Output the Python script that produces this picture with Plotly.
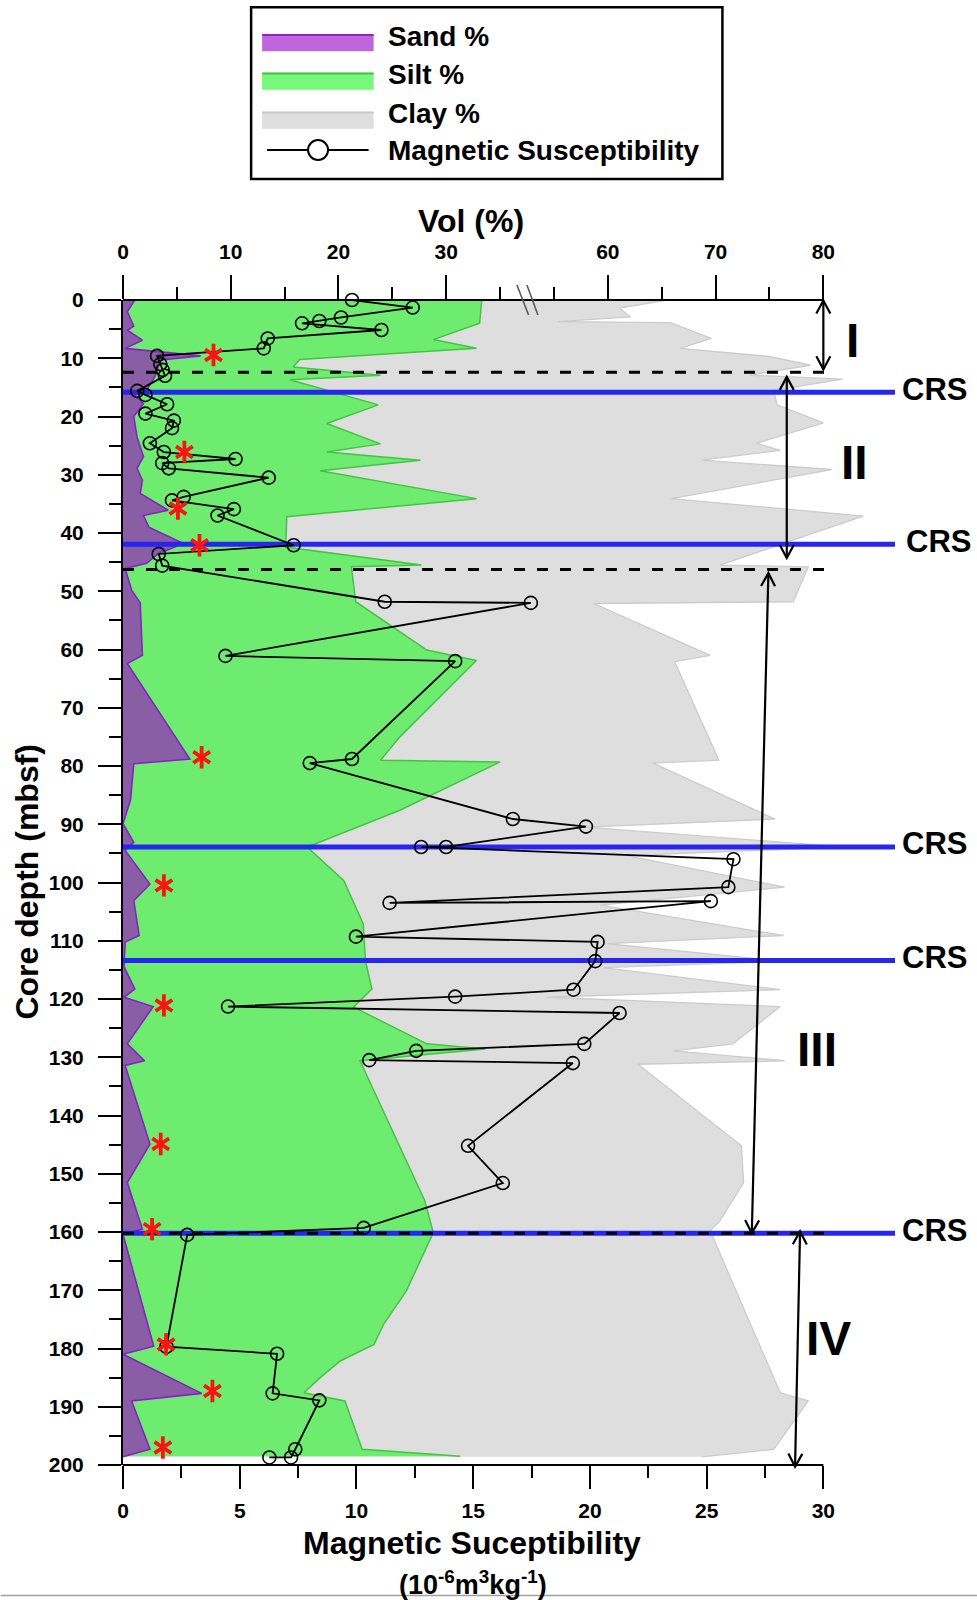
import plotly.graph_objects as go

# ---------------- data ----------------
# Grain-size profile: right-hand edge of each stacked band (vol %), by core depth (mbsf)
SAND_DEPTH = [0, 2, 4.5, 5.2, 6.9, 8.3, 9.6, 10.3, 13, 15.5,
              16.3, 17.8, 20, 23.5, 26.9, 28.9, 30.9, 33.2, 36.1, 37,
              39, 41.8, 43.5, 45.2, 46.1, 49.8, 52, 61, 62.4, 78.8,
              79.6, 85.8, 89.9, 93.1, 94.5, 100.3, 103.1, 109.1, 110.2, 114.5,
              118.3, 119.7, 121.3, 127.7, 130.6, 131.4, 144.9, 151.5, 159.5, 160.4,
              179.6, 181, 187.7, 189, 197.3, 198.6]
SAND_PCT = [1.1, 0.4, 1.0, 0.4, 1.8, 0.2, 7.2, 3.5, 3.0, 2.2,
            1.1, 1.9, 1.0, 1.3, 1.9, 1.3, 1.8, 1.6, 4.2, 1.9,
            2.4, 5.6, 3.3, 2.2, 0.2, 0.8, 1.6, 1.8, 0.4, 6.2,
            1.0, 0.7, 0.0, 1.0, 0.2, 2.5, 1.0, 1.5, 0.2, 0.1,
            1.1, 0.1, 2.8, 0.4, 2.0, 0.2, 2.5, 0.4, 1.8, 0.0,
            2.85, 0.0, 7.3, 0.8, 2.5, 0.0]

SILT_DEPTH = [0, 4, 6.8, 8.3, 10.2, 11.5, 12.9, 13.7, 18, 21.2,
              24.7, 26.1, 27.5, 29.3, 34.1, 37.2, 42.4, 45.5, 45.8, 51.8,
              60.1, 61.9, 75.0, 79.0, 79.3, 87.6, 93.9, 99.7, 107.1, 113.4,
              118.3, 121.4, 127.7, 128.6, 130.6, 154.6, 160.1, 170.1, 175.8, 179.3,
              182.1, 185.0, 187.6, 189.0, 197.3, 198.5]
SAND_SILT_PCT = [33.3, 33.1, 28.8, 32.8, 16.4, 15.8, 23.9, 15.5, 23.7, 18.9,
                 23.9, 18.9, 27.6, 18.3, 32.8, 15.2, 15.1, 27.7, 21.2, 21.6,
                 28.2, 32.8, 25.7, 23.9, 35.0, 25.7, 17.1, 20.5, 22.3, 22.5,
                 23.1, 21.4, 28.2, 33.6, 22.0, 28.0, 28.8, 26.3, 24.2, 23.3,
                 20.2, 18.3, 16.8, 20.6, 22.2, 31.3]

CLAY_DEPTH = [0, 1.4, 2.9, 3.7, 3.9, 6.6, 8.3, 9.7, 11.2, 12.9,
              13.6, 15.5, 18.0, 21.1, 24.6, 25.8, 27.5, 29.1, 34.1, 37.1,
              42.1, 45.5, 45.8, 51.8, 52.1, 61.0, 62.1, 79.0, 79.5, 89.1,
              90.5, 93.9, 95.4, 100.8, 103.9, 109.1, 110.5, 113.5, 114.6, 118.4,
              119.7, 121.3, 127.7, 128.9, 130.6, 131.2, 145.2, 151.5, 158.1, 159.8,
              171.8, 187.6, 189.0, 197.3, 198.6]
TOTAL_PCT = [65.5, 61.1, 62.1, 55.4, 65.8, 69.6, 66.7, 75.0, 78.8, 73.2,
             81.8, 75.4, 75.7, 80.0, 73.8, 76.0, 68.7, 80.8, 65.9, 83.7,
             75.8, 70.4, 78.6, 77.2, 58.7, 69.5, 66.2, 70.3, 64.2, 75.5,
             58.0, 81.8, 61.8, 76.4, 59.3, 76.3, 59.9, 76.0, 59.6, 76.0,
             54.3, 76.0, 71.6, 66.1, 76.4, 62.8, 72.4, 72.6, 70.4, 69.5,
             72.3, 76.0, 78.6, 75.4, 68.7]

# Magnetic susceptibility (10^-6 m^3 kg^-1)
MS_DEPTH = [0.0, 1.3, 3.0, 3.6, 4.0, 5.15, 6.6, 8.3, 9.6, 11.0,
            12.0, 13.0, 15.6, 16.3, 17.9, 19.5, 20.7, 22.0, 24.6, 26.1,
            27.3, 28.0, 28.9, 30.5, 33.8, 34.4, 35.9, 37.0, 42.1, 43.6,
            45.6, 51.8, 52.0, 61.1, 62.0, 78.8, 79.5, 89.1, 90.4, 93.9,
            93.9, 96.0, 100.8, 103.5, 103.2, 109.3, 110.2, 113.5, 118.4, 119.6,
            121.3, 122.4, 127.7, 128.9, 130.5, 131.0, 145.2, 151.6, 159.3, 160.5,
            179.7, 180.9, 187.7, 188.9, 197.3, 198.7, 198.7]
MS_VALUE = [9.81, 12.41, 9.34, 8.41, 7.67, 11.07, 6.20, 6.03, 1.46, 1.6,
            1.7, 1.8, 0.61, 0.96, 1.89, 0.96, 2.18, 2.10, 1.15, 1.75,
            4.82, 1.68, 1.96, 6.24, 2.6, 2.1, 4.75, 4.05, 7.31, 1.53,
            1.68, 11.21, 17.47, 4.39, 14.23, 9.81, 8.00, 16.70, 19.83, 13.84,
            12.77, 26.15, 25.93, 11.42, 25.18, 9.98, 20.33, 20.23, 19.30, 14.23,
            4.50, 21.27, 19.76, 12.56, 10.55, 19.27, 14.78, 16.27, 10.31, 2.75,
            1.86, 6.60, 6.41, 8.41, 7.38, 7.20, 6.27]

# Sand-peak markers (vol %, depth)
STAR_DEPTH = [9.45, 26.1, 35.8, 42.1, 78.5, 100.5, 121.1, 144.9, 159.5, 179.3, 187.3, 197.0]
STAR_VOL = [8.4, 5.7, 5.1, 7.1, 7.3, 3.8, 3.8, 3.5, 2.7, 4.0, 8.3, 3.7]

CRS_DEPTH = [15.85, 41.95, 93.9, 113.4, 160.2]
UNIT_BOUNDARY_DEPTH = [12.4, 46.25, 160.2]
UNIT_NAMES = ["I", "II", "III", "IV"]

VOL_TICKS = [0, 10, 20, 30, 60, 70, 80]
VOL_MINOR = [5, 15, 25, 35, 55, 65, 75]
MS_TICKS = [0, 5, 10, 15, 20, 25, 30]
MS_MINOR = [2.5, 7.5, 12.5, 17.5, 22.5, 27.5]
DEPTH_TICKS = list(range(0, 201, 10))
DEPTH_MINOR = list(range(5, 200, 10))

# ---------------- geometry ----------------
FIG_W, FIG_H = 977, 1600
L, R, T, B = 122.5, 900.0, 300.0, 1465.0
W, H = R - L, B - T
VOL_PX = 700.8 / 65.0        # px per displayed vol unit
MS_PX = 700.8 / 30.0         # px per susceptibility unit
BREAK_LO, BREAK_SHIFT = 37.5, 15.0
FONT = "Liberation Sans, Arial, sans-serif"


def vol_axis(v):
    """Broken vol-% axis: values above the break are shifted left."""
    return v if v <= BREAK_LO else v - BREAK_SHIFT


def ypx(depth):
    return T + depth * H / 200.0


def xp(px):
    return (px - L) / W


def yp(py):
    return 1 - (py - T) / H


VOL_RANGE = [0, W / VOL_PX]
MS_RANGE = [0, W / MS_PX]

fig = go.Figure()

# stacked grain-size bands (back to front)
fig.add_trace(go.Scatter(
    x=[vol_axis(v) for v in TOTAL_PCT], y=CLAY_DEPTH, mode="lines",
    fill="tozerox", fillcolor="rgb(222,222,222)",
    line=dict(color="rgb(204,204,204)", width=1.3), xaxis="x", yaxis="y",
    hoverinfo="skip"))
fig.add_trace(go.Scatter(
    x=SAND_SILT_PCT, y=SILT_DEPTH, mode="lines",
    fill="tozerox", fillcolor="rgb(110,236,112)",
    line=dict(color="rgb(62,200,62)", width=1.5), xaxis="x", yaxis="y",
    hoverinfo="skip"))
fig.add_trace(go.Scatter(
    x=SAND_PCT, y=SAND_DEPTH, mode="lines",
    fill="tozerox", fillcolor="rgb(137,94,165)",
    line=dict(color="rgb(145,25,210)", width=1.6), xaxis="x", yaxis="y",
    hoverinfo="skip"))

# CRS horizons
crs_end = (895 - L) / VOL_PX
for d in CRS_DEPTH:
    fig.add_trace(go.Scatter(
        x=[0, crs_end], y=[d, d], mode="lines",
        line=dict(color="rgb(38,38,240)", width=5), xaxis="x", yaxis="y",
        hoverinfo="skip"))

# unit boundaries
dash_end = (826 - L) / VOL_PX
for d in UNIT_BOUNDARY_DEPTH:
    fig.add_trace(go.Scatter(
        x=[0, dash_end], y=[d, d], mode="lines",
        line=dict(color="black", width=3, dash="11px,12px"), xaxis="x", yaxis="y",
        hoverinfo="skip"))

# magnetic susceptibility
fig.add_trace(go.Scatter(
    x=MS_VALUE, y=MS_DEPTH, mode="lines+markers",
    line=dict(color="black", width=1.8),
    marker=dict(symbol="circle-open", size=13, color="black", line=dict(width=1.6)),
    xaxis="x2", yaxis="y", cliponaxis=False, hoverinfo="skip"))

# sand peak asterisks
for sym in ("y-up-open", "y-down-open"):
    fig.add_trace(go.Scatter(
        x=STAR_VOL, y=STAR_DEPTH, mode="markers",
        marker=dict(symbol=sym, size=14, color="rgb(250,20,20)",
                    line=dict(color="rgb(250,20,20)", width=3.8)),
        xaxis="x3", yaxis="y", cliponaxis=False, hoverinfo="skip"))

tickfont = dict(family=FONT, size=21, color="black", weight="bold")

fig.update_layout(
    width=FIG_W, height=FIG_H, autosize=False,
    margin=dict(l=L, r=FIG_W - R, t=T, b=FIG_H - B, pad=0),
    paper_bgcolor="white", plot_bgcolor="rgba(0,0,0,0)",
    showlegend=False,
    xaxis=dict(
        range=VOL_RANGE, side="top", anchor="y", domain=[0, 1],
        tickmode="array", tickvals=[vol_axis(v) for v in VOL_TICKS],
        ticktext=[str(v) for v in VOL_TICKS],
        ticks="outside", ticklen=24, tickwidth=2, tickcolor="black",
        minor=dict(tickmode="array", tickvals=[vol_axis(v) for v in VOL_MINOR],
                   ticks="outside", ticklen=12, tickwidth=2, tickcolor="black",
                   showgrid=False),
        ticklabelstandoff=8, tickfont=tickfont,
        showline=False, showgrid=False, zeroline=False, fixedrange=True),
    xaxis2=dict(
        range=MS_RANGE, side="bottom", anchor="y", overlaying="x",
        tickmode="array", tickvals=MS_TICKS, ticktext=[str(v) for v in MS_TICKS],
        ticks="outside", ticklen=23, tickwidth=2, tickcolor="black",
        minor=dict(tickmode="array", tickvals=MS_MINOR, ticks="outside",
                   ticklen=12, tickwidth=2, tickcolor="black", showgrid=False),
        ticklabelstandoff=4, tickfont=tickfont,
        showline=False, showgrid=False, zeroline=False),
    xaxis3=dict(range=VOL_RANGE, overlaying="x", anchor="y", visible=False),
    yaxis=dict(
        range=[200, 0], domain=[0, 1],
        tickmode="array", tickvals=DEPTH_TICKS, ticktext=[str(v) for v in DEPTH_TICKS],
        ticks="outside", ticklen=23, tickwidth=2, tickcolor="black",
        minor=dict(tickmode="array", tickvals=DEPTH_MINOR, ticks="outside",
                   ticklen=12, tickwidth=2, tickcolor="black", showgrid=False),
        ticklabelstandoff=10, tickfont=tickfont,
        showline=True, linewidth=2, linecolor="black",
        showgrid=False, zeroline=False),
)

shapes = []
annotations = []


def pline(x0, y0, x1, y1, color="black", width=2, dash=None):
    ln = dict(color=color, width=width)
    if dash:
        ln["dash"] = dash
    shapes.append(dict(type="line", xref="paper", yref="paper",
                       x0=xp(x0), y0=yp(y0), x1=xp(x1), y1=yp(y1),
                       line=ln, layer="above"))


def text(x, y, s, size, xanchor="center", yanchor="middle", angle=0, weight="bold"):
    annotations.append(dict(
        text=s, xref="paper", yref="paper", x=xp(x), y=yp(y),
        xanchor=xanchor, yanchor=yanchor, showarrow=False, textangle=angle,
        font=dict(family=FONT, size=size, color="black", weight=weight)))


def chevron(tx, ty, dx, dy, back=13, half=7, width=2.2):
    n = (dx * dx + dy * dy) ** 0.5
    ux, uy = dx / n, dy / n            # unit vector pointing toward the tip
    px_, py_ = -uy, ux
    bx, by = tx - ux * back, ty - uy * back
    a = (bx + px_ * half, by + py_ * half)
    c = (bx - px_ * half, by - py_ * half)
    path = "M{},{} L{},{} L{},{}".format(
        xp(a[0]), yp(a[1]), xp(tx), yp(ty), xp(c[0]), yp(c[1]))
    shapes.append(dict(type="path", xref="paper", yref="paper", path=path,
                       line=dict(color="black", width=width), layer="above"))


def double_arrow(x0, d0, x1, d1):
    y0, y1 = ypx(d0), ypx(d1)
    pline(x0, y0, x1, y1, width=2.2)
    chevron(x0, y0, x0 - x1, y0 - y1)
    chevron(x1, y1, x1 - x0, y1 - y0)


# axis lines of the top (vol) and bottom (susceptibility) scales
pline(L, T, L + 65 * VOL_PX, T, width=2)
pline(L, B, L + 30 * MS_PX, B, width=2)

# axis break marks
pline(516.7, 285, 528.3, 315, color="rgb(90,90,90)", width=1.6)
pline(526.7, 285, 537.7, 315, color="rgb(90,90,90)", width=1.6)

# unit arrows
double_arrow(823.3, 0.1, 823.3, 11.9)
double_arrow(786.7, 13.2, 786.7, 44.3)
double_arrow(768.3, 46.9, 751.7, 160.2)
double_arrow(800.0, 159.9, 795.0, 200.3)

# unit names
for name, (ux, uy) in zip(UNIT_NAMES, [(852.5, 340), (854, 462), (817, 1049), (828, 1338)]):
    text(ux, uy, name, 48)

# CRS labels
for i, d in enumerate(CRS_DEPTH):
    text(904.5 if i == 1 else 900.5, ypx(d) - 3, "CRS", 31, xanchor="left")

# axis titles
text(471, 221, "Vol (%)", 32)
text(26, 882, "Core depth (mbsf)", 32, angle=-90)
text(472, 1543, "Magnetic Suceptibility", 32)
text(473, 1583, "(10<sup>-6</sup>m<sup>3</sup>kg<sup>-1</sup>)", 27)

# legend box
shapes.append(dict(type="rect", xref="paper", yref="paper",
                   x0=xp(250.7), y0=yp(7.3), x1=xp(722.3), y1=yp(179),
                   line=dict(color="black", width=2.5), fillcolor="white"))
swatches = [
    ("Sand %", 34.3, "rgb(192,102,220)", "rgb(150,30,205)"),
    ("Silt %", 72.7, "rgb(120,248,122)", "rgb(60,200,60)"),
    ("Clay %", 111.7, "rgb(222,222,222)", "rgb(200,200,200)"),
]
for label, top, fill, edge in swatches:
    shapes.append(dict(type="rect", xref="paper", yref="paper",
                       x0=xp(261.7), y0=yp(top), x1=xp(373.3), y1=yp(top + 17),
                       line=dict(width=0), fillcolor=fill))
    pline(261.7, top + 0.8, 373.3, top + 0.8, color=edge, width=2)
    text(385.7, top + 2, label, 28, xanchor="left")
pline(266.7, 150, 368.3, 150, width=2)
shapes.append(dict(type="circle", xref="paper", yref="paper",
                   x0=xp(307.7), y0=yp(140), x1=xp(327.7), y1=yp(160),
                   line=dict(color="black", width=2), fillcolor="white"))
text(385.7, 150, "Magnetic Susceptibility", 28, xanchor="left")

# bottom frame line of the page
pline(0, 1595.5, FIG_W, 1595.5, color="rgb(160,160,160)", width=1.5)

fig.update_layout(shapes=shapes, annotations=annotations)
fig.write_html("out.html")
